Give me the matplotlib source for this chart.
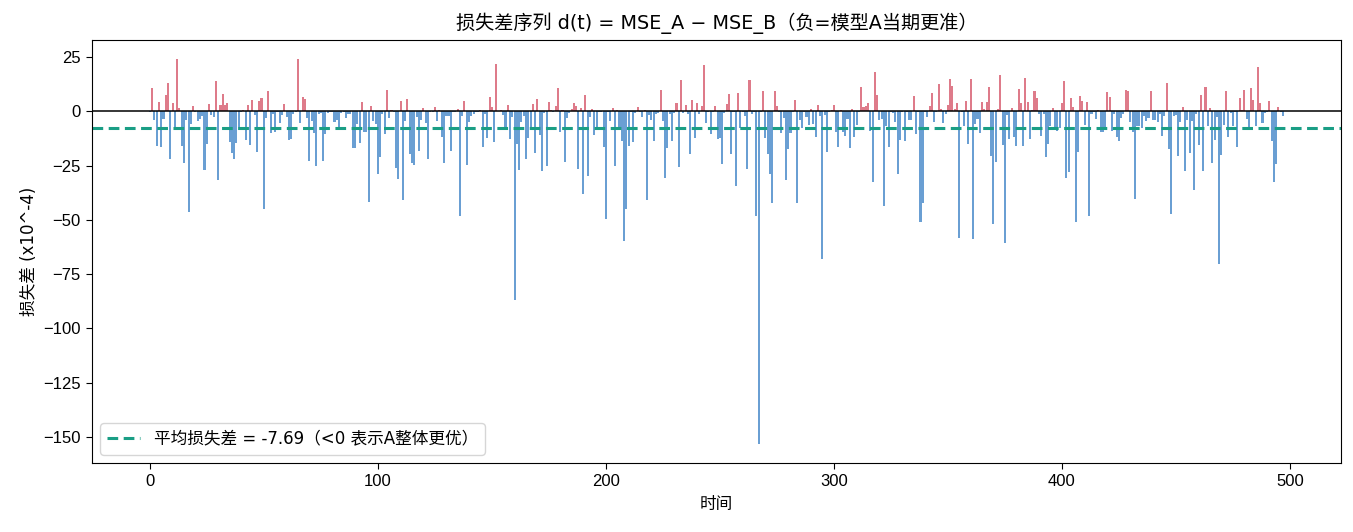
import numpy as np
import matplotlib
matplotlib.use("Agg")
import matplotlib.pyplot as plt

plt.rcParams['font.family'] = ['Liberation Sans', 'Noto Sans CJK SC', 'DejaVu Sans']
text_family = ['DejaVu Sans', 'Noto Sans CJK SC']

# loss differences d(t) in units of 1e-4
seg_000 = [-0.3, 10.6, -4.0, -16, 4.2, -16.5, -3.5, 7.4, 13, -22,
           3.7, -7.7, 24, 1.4, -16, -24, -4, -46.6, -5.9, 2.3,
           -0.3, -4.5, -3.5, -2.2, -27, -15, 3.2, -1.7, -2.6, 13.9,
           -31.8, 2.8, 7.9, 2.8, 3.7, -14.2, -19.3, -22, -14.7, -8.8,
           -0.3, 0.5, -13.3, 2.8, -15.6, 5.1, -1.7, -18.8, 4.6, 6.0]
seg_050 = [-45.2, -3.1, 9.3, -10, -1.2, -9.6, -0.5, -5.4, -1.7, 3.2,
           -2.6, -13.3, -12.8, -1.2, -0.3, 24, -5.4, 6.5, 5.6, -3.1,
           -23, -4.5, -10, -25.3, -1.2, -0.8, -23, -10.5, -0.8, -0.3,
           -0.5, -4.9, -4, -7.7, -0.8, -0.3, -3.1, -1.2, -1.2, -17,
           -17, -5.9, -14.7, 4.2, -9.6, -9.6, -42, 2.3, -4.5, -5.9]
seg_100 = [-29, -21.1, -1.2, -10.5, 9.7, -3.1, 0.5, -0.3, -26.2, -31.3,
           4.6, -41, -4.5, 5.6, -19.8, -24, -24.8, -2.6, -18.4, -4,
           1.4, -5.4, -22, -0.5, -0.3, 1.9, -4.5, 0.5, -11.9, -24,
           -2.2, -2.2, -18.4, -0.3, -0.5, 0.9, -48, -2.2, 4.6, -24.8,
           -4.9, -2.2, -1.2, -0.3, -0.3, 0.5, -16.5, -1.2, -12.3, 6.5]
seg_150 = [1.9, -14.2, 21.8, 0.3, 0.5, -1.7, -7.7, 2.8, -12.8, -2.6,
           -87, -15.1, -27.2, -4.9, -2.2, -22, -12.3, -8, 3.2, -19.3,
           5.6, -11, -27.6, -1, -25.3, 4.2, 0.5, -0.3, 2.3, 10.6,
           -9.6, 0.5, -23.5, -3.1, -0.8, 0.9, 3.7, 2.3, -26.7, 1.4,
           -38.3, 7.4, -30, -2.6, 0.9, -11, -7.7, -0.3, -0.3, -16.5]
seg_200 = [-49.4, -0.3, -4.5, 1.4, -25.3, 0.5, -7.7, -13.7, -59.6, -45.2,
           -16, -0.5, -14.2, -1, 1.9, -0.5, -2.6, 0.5, -41, -1.7,
           -4, -13.7, -1.2, -0.8, 9.7, -4.5, -30.9, -17, -1.2, -13.7,
           -0.8, 3.7, -25.8, 14.4, -0.8, 2.8, -1.2, -19.8, 5.1, -12.3,
           3.7, -1.2, 2.3, 21.3, -5.4, -0.5, -10.5, -0.3, 2.3, -12.8]
seg_250 = [-12.3, -24.4, -0.8, 3.2, 7.9, -19.8, -0.5, -34.6, 8.3, -7.7,
           -0.5, -2.2, -26.7, 14.4, -1.2, -0.3, -48, -153, -0.5, 9.3,
           -12.3, -19.8, -29, -42.4, 9.3, 2.3, -0.5, -10, -3.1, -31.8,
           -17.4, -10, -0.5, 5.1, -42.4, -4, -7.7, -0.5, -2.6, -6.3,
           0.9, -5.9, -11.9, 2.8, -2.2, -67.9, -1.7, -18.8, -0.3, 0.5]
seg_300 = [2.8, -9.6, -16.5, 0.5, -9.6, -11.4, -3.5, -17, 0.9, -11.9,
           -6.3, -0.5, 11.1, 1.9, 2.3, 3.7, -9.1, -32.7, 18, 7.4,
           -4, -3.5, -43.4, -6.8, -16.5, -0.5, -0.8, -4.9, -29, -13.3,
           -0.5, -13.7, -0.3, -4, -4, 6.9, -10.5, -0.5, -51.2, -42.4,
           -0.5, -2.6, 2.3, 8.3, -4.9, -0.5, 12.5, 0.9, -5.4, -1.2]
seg_350 = [2.8, 14.8, 11.6, 0.9, 3.7, -58.2, -0.5, -6.8, 4.6, -15.1,
           14.8, -58.7, -5.9, -3.5, -10, 4.2, 0.9, 4.2, 11.1, -20.7,
           -51.7, -23.5, 0.9, 16.7, -15.6, -60.5, -1.7, -12.8, 1.4, -11.9,
           -16, 10.2, 3.7, -16, 15.3, 4.2, -12.8, 0.5, 9.3, 6.0,
           -1.2, -11.4, -1.2, -21.1, -15.1, -6.8, 1.4, -7.7, -9.1, -7.7]
seg_400 = [3.7, 13.9, -30.9, -28.1, 6.0, 1.9, -50.8, -18.8, 6.9, 4.6,
           -6.3, 4.2, -48, -1.2, -0.5, -3.5, 0.5, -9.6, -9.6, -8.8,
           8.8, 6.5, -9.1, -1.2, -11.9, -13.7, -3.1, -1.2, 9.7, 9.5,
           -4.9, -9.6, -40.6, -6.8, -6.8, -7.7, -2.2, -4.5, -3.1, 9.3,
           -4, -4, -4.9, -1.2, -11.4, -2.2, 13, -17.4, -47.5, -2.2]
seg_450 = [-1.7, -20.7, -4.9, 1.9, -27.6, -4, -19.3, -4.5, -36.4, -1.2,
           -15.6, 7.4, -27.6, 11.1, -6.8, 1.4, -24, -13.3, -2.6, -70.2,
           -20.2, -6.3, 9.3, -11.9, -0.8, -6.8, -0.5, -16.5, 6.0, 0.5,
           9.7, -3.5, -7.7, 10.6, 5.1, -6.8, 20.4, 3.7, -5.4, -0.8,
           -0.5, 4.6, -13.7, -32.7, -24.4, 1.9, -0.5, -2.2]

loss_diff = np.array(seg_000 + seg_050 + seg_100 + seg_150 + seg_200 +
                     seg_250 + seg_300 + seg_350 + seg_400 + seg_450)
time_idx = np.arange(len(loss_diff))
mean_diff = -7.69

title = "损失差序列 d(t) = MSE_A − MSE_B（负=模型A当期更准）"
xlabel = "时间"
ylabel = "损失差 (x10^-4)"
legend_label = f"平均损失差 = {mean_diff:.2f}（<0 表示A整体更优）"

c_pos = "#de7b8a"
c_neg = "#6a9fd3"
c_mean = "#1a9e85"

fig = plt.figure(figsize=(13.53, 5.32), dpi=100)
ax = fig.add_axes([0.068, 0.13, 0.923, 0.795])

colors = [c_pos if v > 0 else c_neg for v in loss_diff]
ax.bar(time_idx, loss_diff, width=0.9, color=colors, linewidth=0)
ax.axhline(0, color="black", linewidth=1.1)
ax.axhline(mean_diff, color=c_mean, linestyle="--", linewidth=2.2,
           dashes=(3.5, 1.8), label=legend_label)

ax.set_title(title, fontsize=13.8, pad=8, family=text_family)
ax.set_xlabel(xlabel, fontsize=12, family=text_family)
ax.set_ylabel(ylabel, fontsize=12, family=text_family)
ax.tick_params(labelsize=12, length=4.5)
ax.legend(loc="lower left", frameon=True,
          prop={'family': text_family, 'size': 12})

fig.savefig("out.png", dpi=100)
